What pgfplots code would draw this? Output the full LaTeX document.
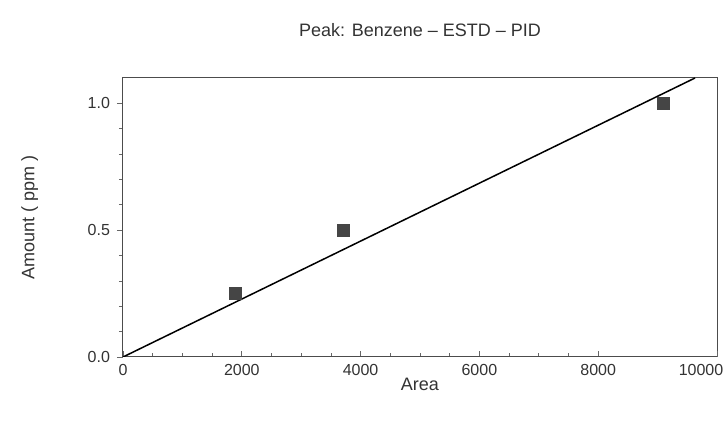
\documentclass[border=0pt]{standalone}
\usepackage{fontspec}
\setmainfont{Liberation Sans}
\usepackage{pgfplots}
\pgfplotsset{compat=1.18}

\definecolor{txt}{HTML}{333333}
\definecolor{pts}{HTML}{454545}

\begin{document}
\begin{tikzpicture}
\begin{axis}[
    name=ax,
    scale only axis,
    width=297pt, height=139.5pt,
    xmin=0, xmax=10000,
    ymin=0, ymax=1.1,
    xtick={0,2000,4000,6000,8000},
    extra x ticks={10000},
    extra x tick style={xticklabel style={xshift=-8pt}},
    ytick={0,0.5,1.0},
    scaled ticks=false,
    minor x tick num=3,
    minor y tick num=4,
    xtick align=inside,
    ytick align=outside,
    tick pos=left,
    major tick length=3pt,
    minor tick length=2pt,
    axis line style={black!70, line width=0.5pt},
    every tick/.style={black!60, line width=0.4pt},
    /pgf/number format/assume math mode=true,
    xticklabel style={/pgf/number format/1000 sep={}, font=\fontsize{8}{9}\selectfont, text=txt},
    yticklabel style={/pgf/number format/fixed, /pgf/number format/fixed zerofill, /pgf/number format/precision=1, font=\fontsize{8}{9}\selectfont, text=txt},
    title={Peak: Benzene -- ESTD -- PID},
    title style={font=\fontsize{9}{10}\selectfont, text=txt, yshift=11pt},
    xlabel={Area},
    ylabel={Amount ( ppm )},
    label style={font=\fontsize{9}{10}\selectfont, text=txt},
    xlabel style={yshift=5.5pt},
    ylabel style={at={(axis description cs:-0.157,0.5)}, anchor=center},
]
% calibration points
\addplot[only marks, mark=square*, mark size=3pt, mark options={fill=pts, draw=pts}]
    coordinates {(1890,0.25) (3710,0.50) (9090,1.00)};
% fitted line through origin
\addplot[black, line width=0.75pt] coordinates {(0,0) (9630,1.1)};
\end{axis}
\pgfresetboundingbox
\useasboundingbox ([xshift=-61.5pt,yshift=-32pt]ax.south west) rectangle ([xshift=3pt,yshift=39pt]ax.north east);
\end{tikzpicture}
\end{document}
